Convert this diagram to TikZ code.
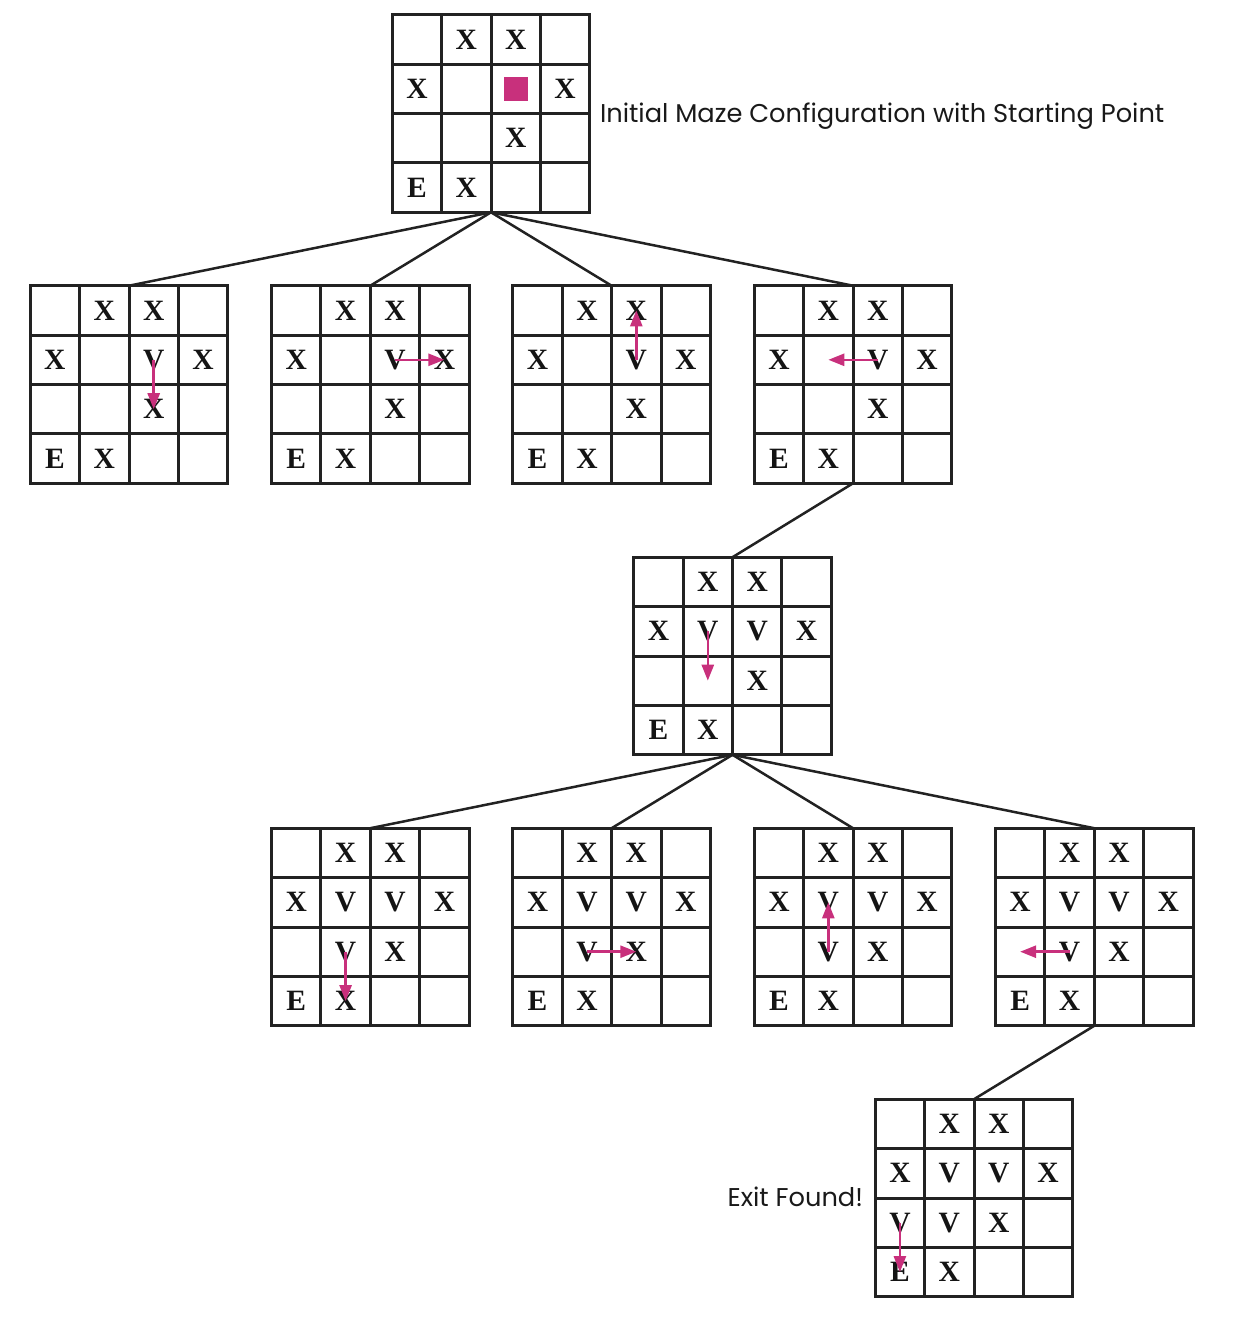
\documentclass[tikz,border=0pt]{standalone}
\usepackage{fontspec}
\setmainfont{Liberation Serif}
\newfontfamily\labelfont{Poppins}
\usetikzlibrary{calc,arrows.meta}
\definecolor{mzpink}{RGB}{200,48,124}
\definecolor{mzline}{RGB}{34,34,34}
\def\cs{49.4}
\newcommand\mazegrid[3]{%
  \node[gridbox] (#1) at (#2,#3) {};
  \foreach \i in {1,2,3}{%
    \draw[gridline] ($(#1.north west)+(\i*\cs,0)$) -- ($(#1.south west)+(\i*\cs,0)$);
    \draw[gridline] ($(#1.north west)+(0,\i*\cs)$) -- ($(#1.north east)+(0,\i*\cs)$);
  }%
  \foreach \r in {1,...,4}{\foreach \c in {1,...,4}{%
    \coordinate (#1-\r-\c) at ($(#1.north west)+(\c*\cs-0.5*\cs,\r*\cs-0.5*\cs)$);
  }}%
}
\newcommand\mzcell[4]{\node[lt] (#1-#2-#3-t) at (#1-#2-#3) {#4};}
\newcommand\basecells[1]{%
  \mzcell{#1}{1}{2}{X}\mzcell{#1}{1}{3}{X}%
  \mzcell{#1}{2}{1}{X}\mzcell{#1}{2}{4}{X}%
  \mzcell{#1}{3}{3}{X}%
  \mzcell{#1}{4}{1}{E}\mzcell{#1}{4}{2}{X}%
}
\begin{document}
\begin{tikzpicture}[x=1pt,y=-1pt,
  gridbox/.style={draw=mzline,line width=3pt,minimum size=197.6pt,inner sep=0pt,outer sep=0pt},
  gridline/.style={draw=mzline,line width=3pt},
  conn/.style={draw=mzline,line width=2.5pt},
  lt/.style={inner sep=0pt,text=black!92,font=\fontsize{29.5}{30}\selectfont\bfseries},
  mv/.style={draw=mzpink,line width=2.6pt,-{Triangle[length=16pt,width=12pt]}},
  lbl/.style={inner sep=0pt,font=\labelfont\fontsize{25.7}{30}\selectfont,text=black!90}]
\useasboundingbox (0,0) rectangle (1242,1328);

% grids
\mazegrid{g0}{491}{113.5}
\mazegrid{g1}{129}{384.5}
\mazegrid{g2}{370.3}{384.5}
\mazegrid{g3}{611.6}{384.5}
\mazegrid{g4}{853}{384.5}
\mazegrid{g5}{732.5}{656}
\mazegrid{g6}{370.3}{927}
\mazegrid{g7}{611.6}{927}
\mazegrid{g8}{853}{927}
\mazegrid{g9}{1094.2}{927}
\mazegrid{g10}{974}{1198}

% connectors
\draw[conn] (g0.south) -- (g1.north);
\draw[conn] (g0.south) -- (g2.north);
\draw[conn] (g0.south) -- (g3.north);
\draw[conn] (g0.south) -- (g4.north);
\draw[conn] (g4.south) -- (g5.north);
\draw[conn] (g5.south) -- (g6.north);
\draw[conn] (g5.south) -- (g7.north);
\draw[conn] (g5.south) -- (g8.north);
\draw[conn] (g5.south) -- (g9.north);
\draw[conn] (g9.south) -- (g10.north);

% contents
\basecells{g0}
\node[fill=mzpink,minimum size=24pt,inner sep=0pt] (start) at (g0-2-3) {};

\foreach \g in {g1,g2,g3,g4}{\basecells{\g}\mzcell{\g}{2}{3}{V}}
\basecells{g5}\mzcell{g5}{2}{2}{V}\mzcell{g5}{2}{3}{V}
\foreach \g in {g6,g7,g8,g9}{\basecells{\g}\mzcell{\g}{2}{2}{V}\mzcell{\g}{2}{3}{V}\mzcell{\g}{3}{2}{V}}
\basecells{g10}\mzcell{g10}{2}{2}{V}\mzcell{g10}{2}{3}{V}\mzcell{g10}{3}{2}{V}\mzcell{g10}{3}{1}{V}

% moves
\draw[mv] (g1-2-3) -- (g1-3-3);
\draw[mv] (g2-2-3) -- (g2-2-4);
\draw[mv] (g3-2-3) -- (g3-1-3);
\draw[mv] (g4-2-3) -- (g4-2-2);
\draw[mv] (g5-2-2) -- (g5-3-2);
\draw[mv] (g6-3-2) -- (g6-4-2);
\draw[mv] (g7-3-2) -- (g7-3-3);
\draw[mv] (g8-3-2) -- (g8-2-2);
\draw[mv] (g9-3-2) -- (g9-3-1);
\draw[mv] (g10-3-1) -- (g10-4-1);

% labels
\node[lbl,anchor=base west] (initlbl) at ($(g0.east)+(10,9)$) {Initial Maze Configuration with Starting Point};
\node[lbl,anchor=base east] (exitlbl) at ($(g10.west)+(-12,8.5)$) {Exit Found!};
\end{tikzpicture}
\end{document}
